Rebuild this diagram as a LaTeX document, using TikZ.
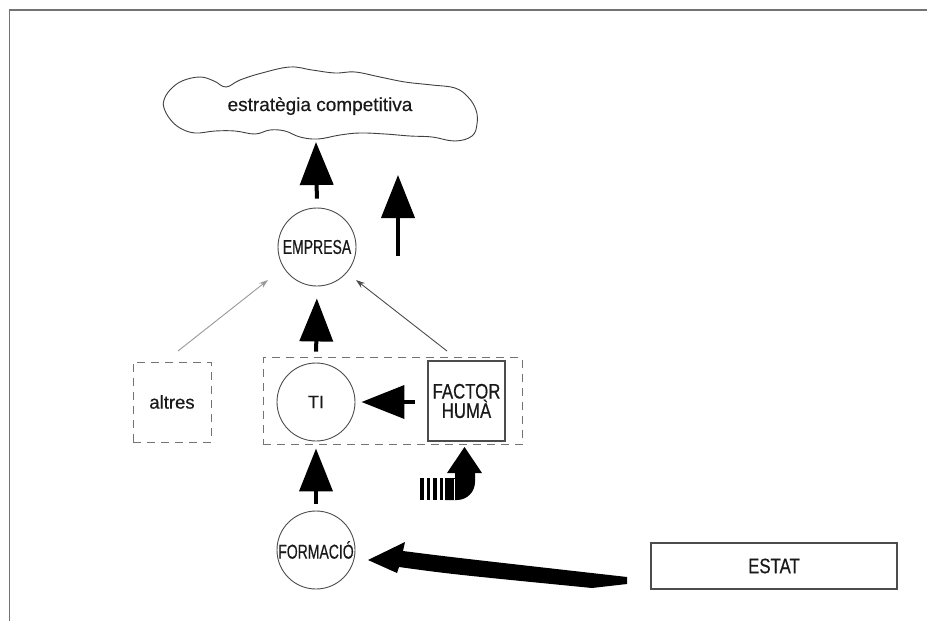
\documentclass[tikz,border=0pt]{standalone}
\usepackage{fontspec}
\setmainfont{Liberation Sans}
\newfontfamily\plainfont[FakeBold=0.4]{Liberation Sans}
\newfontfamily\narrowfont[FakeStretch=0.8,FakeBold=0.5]{Liberation Sans}
\newfontfamily\narrowerfont[FakeStretch=0.7,FakeBold=0.5]{Liberation Sans}
\usetikzlibrary{arrows.meta}
\begin{document}
\begin{tikzpicture}[x=1pt,y=-1pt,
  circ/.style={circle, draw=black!70, line width=0.9pt, minimum size=78pt, inner sep=0pt, text=black!90},
  dbox/.style={draw=black!55, dash pattern=on 8pt off 6pt, line width=1pt},
  sbox/.style={draw=black!70, line width=1.2pt, inner sep=0pt, text=black!90},
  bigarrow/.style={line width=4pt, -{Triangle[length=43pt,width=33pt]}, black},
  thinarrow/.style={line width=0.9pt, -{Stealth[length=9pt,width=6pt]}},
  lbl/.style={text=black!90, inner sep=0pt}
]
\useasboundingbox (0,0) rectangle (927,621);
\fill[white] (0,0) rectangle (927,621);
% frame
\draw[black!55, line width=1.2pt] (9.5,621) -- (9.5,10) -- (927,10);

% cloud
\draw[black!75, line width=0.9pt] plot[smooth cycle, tension=0.65] coordinates {
  (164,100) (170,90) (182,81) (200,77) (214,81) (226,87) (240,80) (262,73)
  (290,67) (312,70) (335,73) (355,72) (380,77) (405,82) (432,85) (455,88)
  (468,97) (476,110) (477,124) (472,136) (455,141) (432,137) (410,136)
  (385,134) (360,133) (340,135) (318,139) (300,137) (285,131) (270,130)
  (255,134) (235,131) (215,131) (195,133) (180,128) (170,119) (164,108)};
\node[lbl, font=\plainfont\fontsize{19}{21}\selectfont] (cloud) at (320,106) {estratègia competitiva};
\coordinate (cloudS) at (316,142);

% nodes
\node[circ, font=\narrowerfont\fontsize{20}{21}\selectfont] (empresa) at (317,247) {EMPRESA};
\node[circ, font=\plainfont\fontsize{18}{19}\selectfont] (ti) at (316,402) {TI};
\node[circ, font=\narrowerfont\fontsize{20}{21}\selectfont] (formacio) at (316,550) {FORMACIÓ};
\node[sbox, minimum width=77pt, minimum height=80pt, align=center,
      font=\narrowfont\fontsize{21}{17}\selectfont] (factor) at (466.5,401) {FACTOR\\HUMÀ};
\node[dbox, minimum width=78pt, minimum height=80pt, inner sep=0pt,
      font=\plainfont\fontsize{18.5}{20}\selectfont, text=black!90] (altres) at (172,402) {altres};
\node[dbox, minimum width=259pt, minimum height=87pt, inner sep=0pt] (group) at (392.5,401) {};
\node[sbox, minimum width=246pt, minimum height=46pt,
      font=\narrowfont\fontsize{21}{22}\selectfont] (estat) at (774,566) {ESTAT};

% thick arrows
\draw[bigarrow, shorten <=9pt] (empresa.north) -- (cloudS);
\coordinate (free1) at (398,256);
\coordinate (free2) at (398,175);
\draw[bigarrow] (free1) -- (free2);
\draw[bigarrow, shorten <=11pt, shorten >=12pt] (ti.north) -- (empresa.south);
\draw[bigarrow, shorten <=7pt, shorten >=7pt] (formacio.north) -- (ti.south);
\draw[bigarrow, shorten <=12pt, shorten >=6pt] (factor.west |- ti.east) -- (ti.east);

% thin arrows
\coordinate (a1) at (178,351);
\coordinate (a2) at (268,280);
\coordinate (b1) at (447,351);
\coordinate (b2) at (356,280);
\draw[thinarrow, black!40] (a1) -- (a2);
\draw[thinarrow, black!70] (b1) -- (b2);

% striped curved arrow into FACTOR HUMA
\fill[black] (420,478) rectangle (423.5,500);
\fill[black] (426.5,478) rectangle (430,500);
\fill[black] (433,478) rectangle (436.5,500);
\fill[black] (439.5,478) rectangle (443,500);
\fill[black] (445,478) -- (455,478) -- (455,472) -- (475,472) -- (475,482)
  arc[start angle=0, end angle=90, radius=18] -- (445,500) -- cycle;
\fill[black] (447,473) -- (482,473) -- (464.5,447) -- cycle;
\draw[white, line width=0.6pt] (454,479) -- (454,500);

% big arrow from ESTAT to FORMACIO
\fill[black] (368,560) -- (405,542) -- (403,551)
  .. controls (450,557) .. (627,577) -- (627,584) -- (592,588)
  .. controls (450,574) .. (399,567) -- (397,573) -- cycle;
\end{tikzpicture}
\end{document}
